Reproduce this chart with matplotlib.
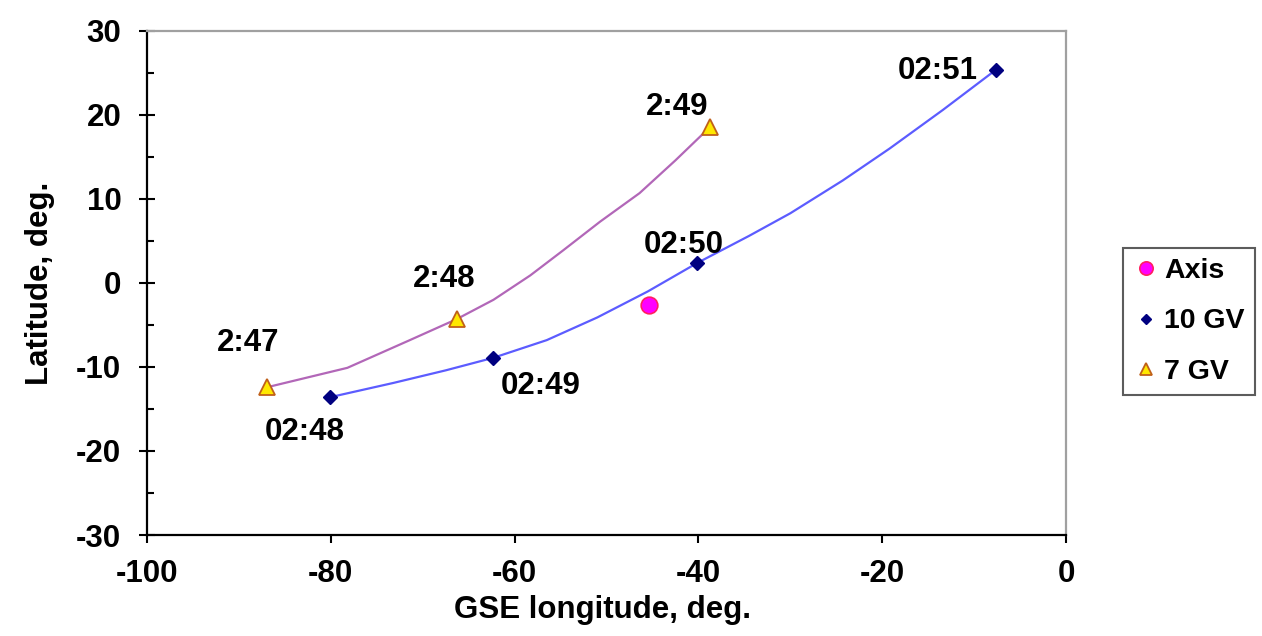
import numpy as np
import matplotlib
matplotlib.use('Agg')
import matplotlib.pyplot as plt

plt.rcParams['font.family'] = ['Liberation Sans', 'DejaVu Sans']
plt.rcParams['font.weight'] = 'bold'
plt.rcParams['axes.unicode_minus'] = False

# Marked points (GSE longitude, latitude)
gv10_lon = [-80.1, -62.3, -40.1, -7.6]
gv10_lat = [-13.6, -8.9, 2.4, 25.4]
gv10_times = ['02:48', '02:49', '02:50', '02:51']

gv7_lon = [-86.9, -66.3, -38.7]
gv7_lat = [-12.4, -4.3, 18.6]
gv7_times = ['2:47', '2:48', '2:49']

axis_lon = [-45.4]
axis_lat = [-2.6]

# Trajectory samples between the marked points
gv10_path_lon = [-80.1, -73.2, -67.5, -62.3, -56.5, -51.0, -45.5, -40.1, -34.5, -30.0, -24.3, -19.2, -13.4, -7.6]
gv10_path_lat = [-13.6, -11.9, -10.4, -8.9, -6.8, -4.1, -1.0, 2.4, 5.6, 8.3, 12.2, 16.0, 20.6, 25.4]
gv7_path_lon = [-86.9, -78.2, -71.4, -66.3, -62.3, -58.3, -54.7, -50.7, -46.4, -42.5, -38.7]
gv7_path_lat = [-12.4, -10.1, -6.8, -4.3, -2.0, 0.9, 3.9, 7.3, 10.7, 14.6, 18.6]

# Label offsets in points (dx, dy) from each marker
gv10_offsets = [(-18, -25), (34, -20), (-10, 13), (-42, -1)]
gv7_offsets = [(-14, 32), (-9, 29), (-24, 14)]

FS = 22.5

fig = plt.figure(figsize=(12.62, 6.36), dpi=100)
ax = fig.add_axes([0.1165, 0.1588, 0.7282, 0.7925])

ax.plot(gv7_path_lon, gv7_path_lat, color='#B267B8', lw=1.6, zorder=2)
ax.plot(gv10_path_lon, gv10_path_lat, color='#5C5CFF', lw=1.6, zorder=2)

h_axis, = ax.plot(axis_lon, axis_lat, ls='none', marker='o', ms=12,
                  mfc='#FF00FF', mec='#FF2060', mew=1.2, zorder=4, label='Axis')
h10, = ax.plot(gv10_lon, gv10_lat, ls='none', marker='D', ms=7,
               mfc='#000080', mec='#000080', zorder=4, label='10 GV')
h7, = ax.plot(gv7_lon, gv7_lat, ls='none', marker='^', ms=11,
              mfc='#FFE800', mec='#C0601A', mew=1.3, zorder=4, label='7 GV')

for x, y, t, off in zip(gv10_lon, gv10_lat, gv10_times, gv10_offsets):
    ax.annotate(t, (x, y), xytext=off, textcoords='offset points',
                ha='center', va='center', fontsize=FS, fontweight='bold')
for x, y, t, off in zip(gv7_lon, gv7_lat, gv7_times, gv7_offsets):
    ax.annotate(t, (x, y), xytext=off, textcoords='offset points',
                ha='center', va='center', fontsize=FS, fontweight='bold')

ax.set_xlim(-100, 0)
ax.set_ylim(-30, 30)
ax.set_xticks(np.arange(-100, 1, 20))
ax.set_yticks(np.arange(-30, 31, 10))
ax.set_yticks(np.arange(-25, 30, 10), minor=True)

ax.tick_params(axis='x', which='major', direction='out', length=6, width=1.5,
               labelsize=FS, pad=11)
ax.tick_params(axis='y', which='major', direction='inout', length=11, width=1.5,
               labelsize=FS, pad=13)
ax.tick_params(axis='y', which='minor', direction='in', length=5, width=1.5)

for s in ['left', 'bottom']:
    ax.spines[s].set_color('black')
    ax.spines[s].set_linewidth(1.6)
for s in ['top', 'right']:
    ax.spines[s].set_color('#A0A0A0')
    ax.spines[s].set_linewidth(1.6)

ax.set_xlabel('GSE longitude, deg.', fontsize=FS, fontweight='bold')
ax.set_ylabel('Latitude, deg.', fontsize=FS, fontweight='bold')
ax.xaxis.set_label_coords(0.4953, -0.12)
ax.yaxis.set_label_coords(-0.100, 0.5)

leg = fig.legend(handles=[h_axis, h10, h7], loc='center left',
                 bbox_to_anchor=(1123 / 1262, 0.4945), borderaxespad=0,
                 fontsize=20.5, frameon=True,
                 fancybox=False, edgecolor='#333333', handlelength=0.9,
                 handletextpad=0.2, borderpad=0.35, labelspacing=0.85,
                 markerscale=0.8)
leg.get_frame().set_linewidth(1.5)
for txt in leg.get_texts():
    txt.set_fontweight('bold')

fig.savefig('out.png', dpi=100, facecolor='white')
